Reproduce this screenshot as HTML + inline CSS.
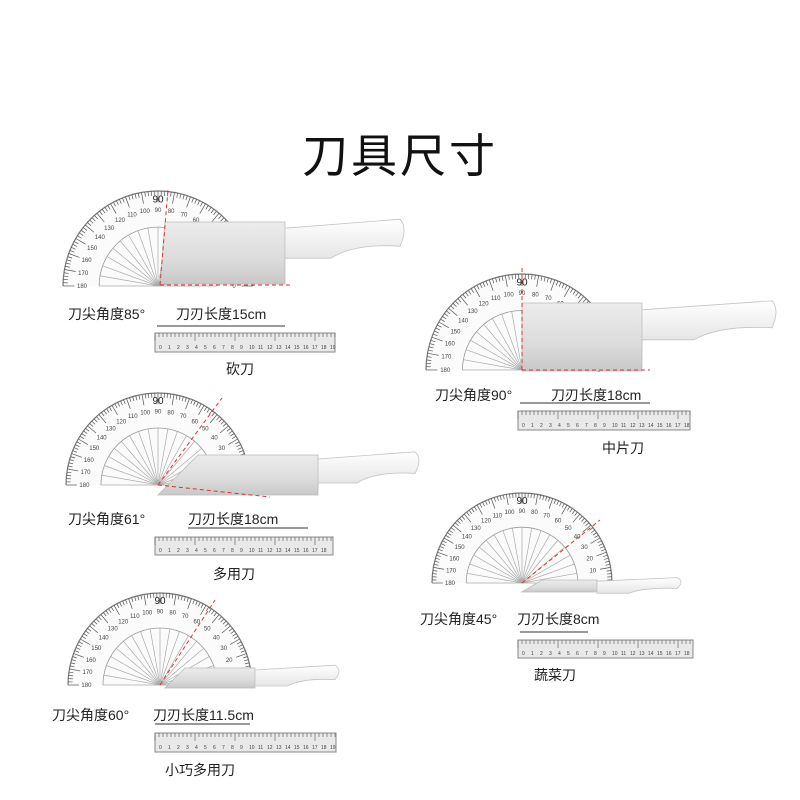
<!DOCTYPE html>
<html><head><meta charset="utf-8">
<style>
html,body{margin:0;padding:0;background:#fff;}
body{width:800px;height:800px;overflow:hidden;position:relative;font-family:"Liberation Sans","Noto Sans CJK SC",sans-serif;}
.t{position:absolute;font-size:14px;color:#222;white-space:nowrap;}
h1{position:absolute;left:0;width:800px;top:120px;margin:0;text-align:center;font-size:46px;font-weight:normal;color:#111;letter-spacing:3px;font-family:"Liberation Sans","Noto Sans CJK SC",sans-serif;}
svg{position:absolute;left:0;top:0;}
</style></head><body>
<h1>刀具尺寸</h1>
<svg id="s" width="800" height="800" viewBox="0 0 800 800">
<defs>
<linearGradient id="bl" x1="0" y1="0" x2="0" y2="1">
<stop offset="0" stop-color="#ececec"/><stop offset="0.6" stop-color="#dcdcdc"/><stop offset="1" stop-color="#c8c8c8"/></linearGradient>
<linearGradient id="hd" x1="0" y1="0" x2="0" y2="1">
<stop offset="0" stop-color="#ffffff"/><stop offset="1" stop-color="#e6e6e6"/></linearGradient>
</defs>
<g id="g"></g>
</svg>
<div class="t" style="left:68px;top:304px">刀尖角度85°</div>
<div class="t" style="left:176px;top:304px">刀刃长度15cm</div>
<div class="t" style="left:226px;top:359px">砍刀</div>
<div class="t" style="left:435px;top:385px">刀尖角度90°</div>
<div class="t" style="left:551px;top:385px">刀刃长度18cm</div>
<div class="t" style="left:602px;top:438px">中片刀</div>
<div class="t" style="left:68px;top:509px">刀尖角度61°</div>
<div class="t" style="left:188px;top:509px">刀刃长度18cm</div>
<div class="t" style="left:213px;top:564px">多用刀</div>
<div class="t" style="left:420px;top:609px">刀尖角度45°</div>
<div class="t" style="left:517px;top:609px">刀刃长度8cm</div>
<div class="t" style="left:534px;top:665px">蔬菜刀</div>
<div class="t" style="left:52px;top:705px">刀尖角度60°</div>
<div class="t" style="left:153px;top:705px">刀刃长度11.5cm</div>
<div class="t" style="left:165px;top:760px">小巧多用刀</div>
<script>
var g=document.getElementById('g'),h='';
function prot(cx,cy,r){
 h+='<path d="M'+(cx-r)+','+cy+' A'+r+','+r+' 0 0 1 '+(cx+r)+','+cy+'" fill="#fbfbfb" stroke="#777" stroke-width="1.2"/>';
 h+='<path d="M'+(cx-r*0.62)+','+cy+' A'+r*0.62+','+r*0.62+' 0 0 1 '+(cx+r*0.62)+','+cy+'" fill="none" stroke="#999" stroke-width="0.8"/>';
 for(var a=0;a<=180;a+=2){var rad=a*Math.PI/180,l=(a%10==0)?0.12:0.05;
  h+='<line x1="'+(cx+r*Math.cos(rad))+'" y1="'+(cy-r*Math.sin(rad))+'" x2="'+(cx+r*(1-l)*Math.cos(rad))+'" y2="'+(cy-r*(1-l)*Math.sin(rad))+'" stroke="#555" stroke-width="0.7"/>';}
 for(var a=0;a<=180;a+=10){var rad=a*Math.PI/180;
  h+='<line x1="'+cx+'" y1="'+cy+'" x2="'+(cx+r*0.62*Math.cos(rad))+'" y2="'+(cy-r*0.62*Math.sin(rad))+'" stroke="#aaa" stroke-width="0.7"/>';
  h+='<text x="'+(cx+r*0.8*Math.cos(rad))+'" y="'+(cy-r*0.8*Math.sin(rad)+2)+'" font-size="6" text-anchor="middle" fill="#444" font-family="Liberation Sans">'+a+'</text>';}
 h+='<text x="'+cx+'" y="'+(cy-r*0.88)+'" font-size="10" text-anchor="middle" fill="#222" font-family="Liberation Sans">90</text>';
}
function ruler(x,y,w,hh){
 h+='<rect x="'+x+'" y="'+y+'" width="'+w+'" height="'+hh+'" fill="#e9e9e9" stroke="#888"/>';
 for(var i=0;i<=w;i+=4){h+='<line x1="'+(x+i)+'" y1="'+y+'" x2="'+(x+i)+'" y2="'+(y+(i%40==0?8:4))+'" stroke="#555" stroke-width="0.6"/>';}
 for(var i=0,n=0;i<=w-8;i+=9,n++){h+='<text x="'+(x+4+i)+'" y="'+(y+hh-3)+'" font-size="5" fill="#444" font-family="Liberation Sans">'+n+'</text>';}
}
function knife(x,y,bw,bh,hw,hh,tip){
 h+='<path d="M'+x+','+(y+bh)+' L'+(x+tip)+','+y+' L'+(x+bw)+','+y+' L'+(x+bw)+','+(y+bh)+' Z" fill="url(#bl)" stroke="#bbb" stroke-width="0.8"/>';
 var hy=y+bh*0.1;
 h+='<path d="M'+(x+bw)+','+hy+' L'+(x+bw+hw)+','+(hy-hh*0.3)+' Q'+(x+bw+hw+8)+','+(hy)+' '+(x+bw+hw)+','+(hy+hh*0.6)+' Q'+(x+bw+hw*0.6)+','+(hy+hh*0.5)+' '+(x+bw+hw*0.4)+','+(hy+hh)+' L'+(x+bw)+','+(hy+hh)+' Z" fill="url(#hd)" stroke="#c4c4c4" stroke-width="0.8"/>';
}
function red(x1,y1,x2,y2){h+='<line x1="'+x1+'" y1="'+y1+'" x2="'+x2+'" y2="'+y2+'" stroke="#d33" stroke-width="1" stroke-dasharray="4,3"/>';}
prot(158,286,95); knife(160,222,125,62,115,30,5); red(160,285,168,190); red(160,285,290,285); ruler(155,333,180,19);
h+='<line x1="157" y1="326" x2="285" y2="326" stroke="#333"/>';
prot(522,370,96); knife(522,303,120,68,130,30,0); red(522,370,522,268); red(522,370,650,370); ruler(518,411,172,19);
h+='<line x1="520" y1="403" x2="650" y2="403" stroke="#333"/>';
prot(158,485,92); knife(158,455,160,40,97,24,40); red(158,485,222,398); red(158,485,270,497); ruler(155,537,178,18);
h+='<line x1="188" y1="528" x2="308" y2="528" stroke="#333"/>';
prot(522,583,90); knife(522,580,75,12,80,12,20); red(522,583,600,520); ruler(518,640,175,18);
h+='<line x1="520" y1="632" x2="588" y2="632" stroke="#333"/>';
prot(160,685,92); knife(165,668,90,20,80,16,20); red(160,685,215,600); ruler(155,733,181,19);
h+='<line x1="155" y1="724" x2="250" y2="724" stroke="#333"/>';
g.innerHTML=h;
</script>
</body></html>
